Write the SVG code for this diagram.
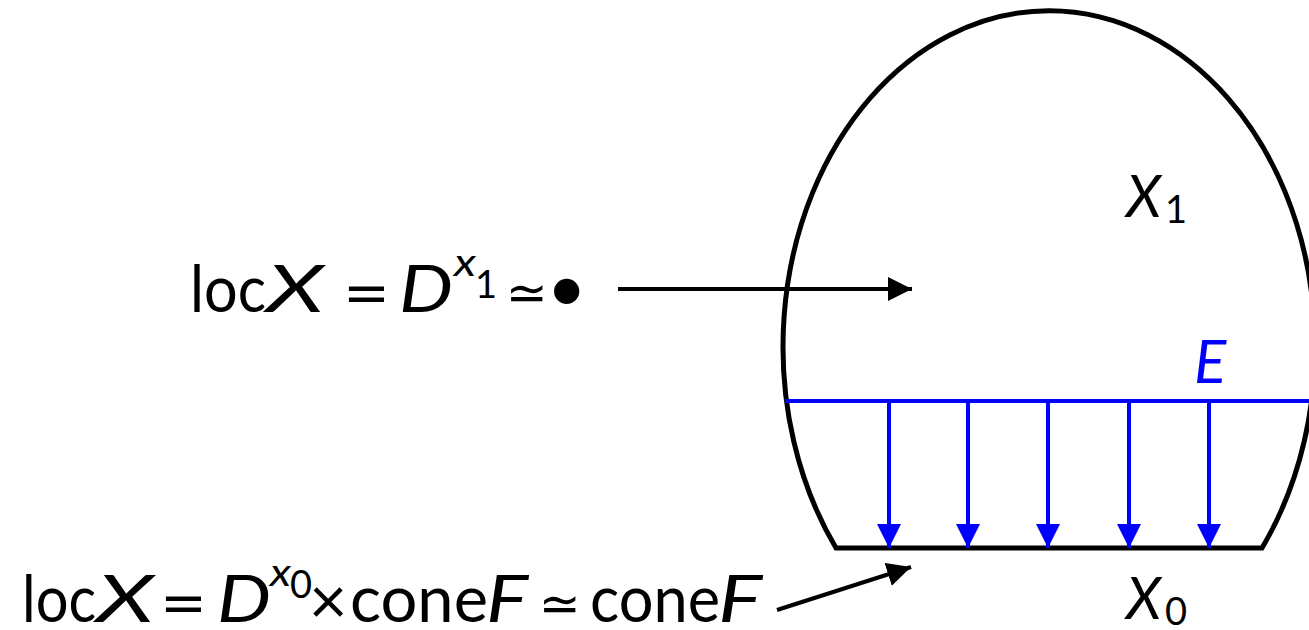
<svg xmlns="http://www.w3.org/2000/svg" width="1309" height="630" viewBox="0 0 1309 630">
<style>
text{font-family:Lato,"Open Sans",sans-serif;fill:#000}
.m{font-size:66px}
.s{font-size:38px}
.l{font-size:58px}
.i{font-style:italic}
.sym{font-family:"DejaVu Sans",sans-serif;font-size:50px}
.eq{font-family:"DejaVu Sans",sans-serif;font-size:56px}
.blk{stroke:#000;stroke-width:4;fill:none}
.shp{stroke:#000;stroke-width:5;fill:none}
.blu{stroke:#00f;stroke-width:4;fill:none}
</style>
<defs>
<marker id="ab" markerWidth="6" markerHeight="6" refX="6" refY="3" orient="auto" markerUnits="strokeWidth"><path d="M0,0 L6,3 L0,6 Z" fill="#000"/></marker>
<marker id="au" markerWidth="6" markerHeight="6" refX="6" refY="3" orient="auto" markerUnits="strokeWidth"><path d="M0,0 L6,3 L0,6 Z" fill="#00f"/></marker>
</defs>
<g id="shape">
<path class="shp" d="M836,548 A266,336 0 1 1 1262,548 Z"/>
</g>
<g id="E-line">
<line class="blu" x1="785" y1="401" x2="1309" y2="401"/>
<text x="1194" y="383" class="l i" style="fill:#00f;font-size:60px">E</text>
</g>
<g id="label-X1">
<text x="1126" y="217" class="l i">X</text>
<text x="1165" y="223" class="s">1</text>
</g>
<g id="label-X0">
<text x="1126" y="619" class="l i">X</text>
<text x="1165" y="625" class="s">0</text>
</g>
<g id="text1">
<text x="190" y="312" class="m" textLength="76" lengthAdjust="spacingAndGlyphs">loc</text>
<text x="266" y="312" class="m i" textLength="58" lengthAdjust="spacingAndGlyphs">X</text>
<text x="343" y="312" class="eq">=</text>
<text x="399" y="312" class="m i" textLength="54" lengthAdjust="spacingAndGlyphs">D</text>
<text x="454" y="276" class="s i" textLength="22" lengthAdjust="spacingAndGlyphs">x</text>
<text x="475" y="298" class="s">1</text>
<text x="506" y="310" class="sym">≃</text>
<text x="541" y="324" class="sym" style="font-size:87px">•</text>
</g>
<g id="text2">
<text x="22" y="622" class="m" textLength="74" lengthAdjust="spacingAndGlyphs">loc</text>
<text x="96" y="622" class="m i" textLength="58" lengthAdjust="spacingAndGlyphs">X</text>
<text x="160" y="622" class="eq">=</text>
<text x="217" y="622" class="m i" textLength="54" lengthAdjust="spacingAndGlyphs">D</text>
<text x="270" y="586" class="s i" textLength="21" lengthAdjust="spacingAndGlyphs">x</text>
<text x="290" y="598" class="s">0</text>
<text x="309" y="624" class="m">×</text>
<text x="350" y="622" class="m" textLength="138" lengthAdjust="spacingAndGlyphs">cone</text>
<text x="486" y="622" class="m i" textLength="42" lengthAdjust="spacingAndGlyphs">F</text>
<text x="539" y="621" class="sym">≃</text>
<text x="590" y="622" class="m" textLength="130" lengthAdjust="spacingAndGlyphs">cone</text>
<text x="718" y="622" class="m i" textLength="44" lengthAdjust="spacingAndGlyphs">F</text>
</g>
<g id="connectors">
<line class="blk" x1="618" y1="289" x2="912" y2="289" marker-end="url(#ab)"/>
<line class="blk" x1="777" y1="610" x2="911" y2="567" marker-end="url(#ab)"/>
<line class="blu" x1="889" y1="401" x2="889" y2="548" marker-end="url(#au)"/>
<line class="blu" x1="968" y1="401" x2="968" y2="548" marker-end="url(#au)"/>
<line class="blu" x1="1048" y1="401" x2="1048" y2="548" marker-end="url(#au)"/>
<line class="blu" x1="1129" y1="401" x2="1129" y2="548" marker-end="url(#au)"/>
<line class="blu" x1="1209" y1="401" x2="1209" y2="548" marker-end="url(#au)"/>
</g>
</svg>
